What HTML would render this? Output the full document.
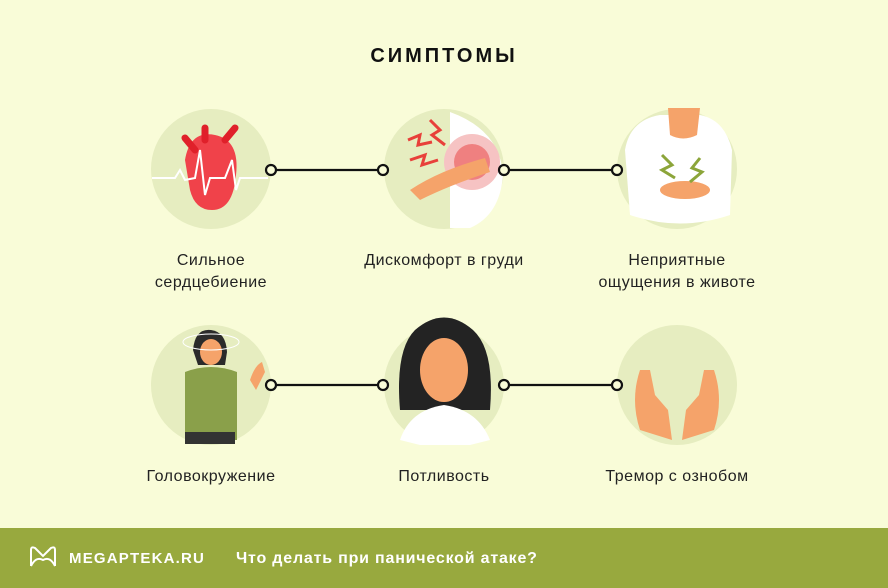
<!DOCTYPE html>
<html><head><meta charset="utf-8"><style>
html,body{margin:0;padding:0}
body{width:888px;height:588px;overflow:hidden;background:#f9fcd8;font-family:"Liberation Sans",sans-serif}
</style></head><body>
<svg width="888" height="588" viewBox="0 0 888 588" xmlns="http://www.w3.org/2000/svg" style="display:block">
<rect width="888" height="588" fill="#f9fcd8"/>
<text x="444" y="62" text-anchor="middle" font-family="Liberation Sans, sans-serif" font-weight="bold" font-size="20" letter-spacing="3" fill="#111">СИМПТОМЫ</text>
<g fill="#e6edc0">
<circle cx="211" cy="169" r="60"/><circle cx="444" cy="169" r="60"/><circle cx="677" cy="169" r="60"/>
<circle cx="211" cy="385" r="60"/><circle cx="444" cy="385" r="60"/><circle cx="677" cy="385" r="60"/>
</g>
<!-- heart -->
<path d="M185 160 Q190 130 215 135 Q240 140 236 175 Q233 210 212 210 Q195 210 190 190 Z" fill="#f0424a"/>
<path d="M195 150 L185 138 M205 140 L205 128 M225 140 L235 128" stroke="#e0202a" stroke-width="7" stroke-linecap="round"/>
<polyline points="152,178 175,178 180,170 185,180 195,178 200,150 205,195 210,178 225,178 232,160 236,190 240,178 268,178" fill="none" stroke="#fff" stroke-width="2"/>
<!-- chest -->
<path d="M450 112 Q500 130 503 175 Q500 215 470 228 L450 228 Z" fill="#fff"/>
<circle cx="472" cy="162" r="28" fill="#f6c3c3"/><circle cx="472" cy="162" r="18" fill="#ef8080"/>
<path d="M410 190 Q440 170 485 158 L490 172 Q450 185 420 200 Z" fill="#f5a36a"/>
<path d="M430 120 L440 130 L432 135 L445 145 M408 140 L420 135 L418 145 L432 142 M410 160 L425 155 L422 165 L438 160" stroke="#e8403a" stroke-width="3" fill="none"/>
<!-- stomach -->
<path d="M625 150 Q630 120 660 115 L700 115 Q725 120 732 150 L730 215 Q680 232 630 215 Z" fill="#fff"/>
<path d="M668 108 L700 108 L697 135 Q683 142 670 135 Z" fill="#f5a36a"/>
<ellipse cx="685" cy="190" rx="25" ry="9" fill="#f5a36a"/>
<path d="M662 155 L672 165 L662 170 L675 178 M700 158 L692 168 L702 172 L690 182" stroke="#8ca53a" stroke-width="3" fill="none"/>
<!-- dizzy -->
<path d="M185 372 Q211 362 237 372 L237 440 L185 440 Z" fill="#8aa04a"/>
<rect x="185" y="432" width="50" height="12" fill="#333"/>
<path d="M193 350 Q195 328 211 330 Q226 332 227 352 L225 365 L198 365 Z" fill="#2b2b2b"/>
<ellipse cx="211" cy="352" rx="11" ry="13" fill="#f5a36a"/>
<path d="M250 380 Q255 365 262 362 L265 372 L256 390 Z" fill="#f5a36a"/>
<ellipse cx="211" cy="342" rx="28" ry="8" fill="none" stroke="#fff" stroke-width="1"/>
<!-- sweating -->
<path d="M400 410 Q395 350 415 330 Q444 305 473 330 Q495 350 490 410 Z" fill="#232323"/>
<ellipse cx="444" cy="370" rx="24" ry="32" fill="#f5a36a"/>
<path d="M400 440 Q410 410 444 405 Q478 410 490 440 L470 445 L420 445 Z" fill="#fff"/>
<!-- hands -->
<path d="M640 430 Q630 400 640 370 L650 370 L655 395 L668 410 L672 440 Z" fill="#f5a36a"/>
<path d="M714 430 Q724 400 714 370 L704 370 L699 395 L686 410 L682 440 Z" fill="#f5a36a"/>
<!-- connectors -->
<g stroke="#111" stroke-width="2.2" fill="#f9fcd8">
<line x1="276" y1="170" x2="378" y2="170"/><line x1="509" y1="170" x2="612" y2="170"/>
<line x1="276" y1="385" x2="378" y2="385"/><line x1="509" y1="385" x2="612" y2="385"/>
<circle cx="271" cy="170" r="5"/><circle cx="383" cy="170" r="5"/><circle cx="504" cy="170" r="5"/><circle cx="617" cy="170" r="5"/>
<circle cx="271" cy="385" r="5"/><circle cx="383" cy="385" r="5"/><circle cx="504" cy="385" r="5"/><circle cx="617" cy="385" r="5"/>
</g>
<g font-family="Liberation Sans, sans-serif" font-size="16" letter-spacing="0.5" fill="#222" text-anchor="middle">
<text x="211" y="265">Сильное</text><text x="211" y="287">сердцебиение</text>
<text x="444" y="265">Дискомфорт в груди</text>
<text x="677" y="265">Неприятные</text><text x="677" y="287">ощущения в животе</text>
<text x="211" y="481">Головокружение</text>
<text x="444" y="481">Потливость</text>
<text x="677" y="481">Тремор с ознобом</text>
</g>
<rect x="0" y="528" width="888" height="60" fill="#98a93e"/>
<path d="M31 566 L31 550 Q31 546 35 548 L43 556 L51 548 Q55 546 55 550 L55 566 M31 566 Q36 556 43 560 Q50 556 55 566" stroke="#fff" stroke-width="2" fill="none"/>
<text x="69" y="563" font-family="Liberation Sans, sans-serif" font-weight="bold" font-size="15" letter-spacing="1.2" fill="#fff">MEGAPTEKA.RU</text>
<text x="236" y="563" font-family="Liberation Sans, sans-serif" font-weight="bold" font-size="16" letter-spacing="0.8" fill="#fff">Что делать при панической атаке?</text>
</svg>
</body></html>
